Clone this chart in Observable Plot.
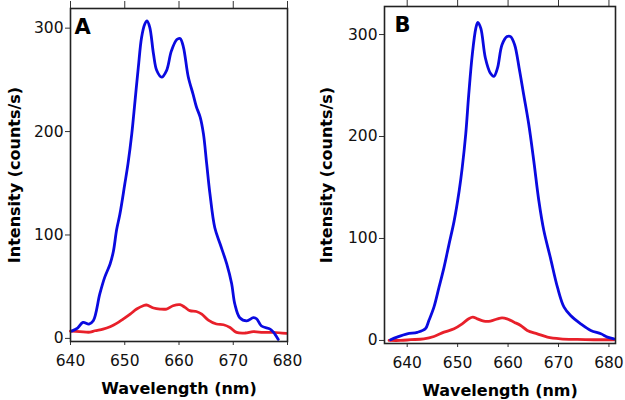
<!DOCTYPE html>
<html>
<head>
<meta charset="utf-8">
<script src="https://cdn.jsdelivr.net/npm/d3@7"></script>
<script src="https://cdn.jsdelivr.net/npm/@observablehq/plot@0.6"></script>
<style>
  html, body { margin: 0; padding: 0; background: #fff; }
  #wrap { position: relative; width: 625px; height: 400px; }
  #a { position: absolute; left: 0; top: 0; }
  #b { position: absolute; left: 310px; top: 0; }
</style>
</head>
<body>
<div id="wrap"><div id="a"></div><div id="b"></div></div>
<script>
// Panel A
const aBlueWl = [640.2, 641.3, 642.3, 643.4, 644.2, 645.4, 646.3, 647.3, 647.9, 648.5, 649.1, 650.0, 650.6, 651.3, 651.9, 652.5, 653.1, 653.7, 654.1, 654.6, 655.3, 655.9, 656.8, 657.7, 658.6, 659.6, 660.2, 660.8, 661.7, 662.6, 663.2, 663.9, 664.5, 665.1, 665.7, 666.6, 667.6, 668.8, 669.7, 670.3, 671.2, 672.5, 673.7, 674.3, 675.2, 676.8, 677.4, 678.3];
const aBlueI  = [7, 10, 15.5, 13.9, 17, 43, 59, 72, 84, 105, 120, 149, 169, 198, 230, 262, 291, 304, 307, 301, 275, 259, 252.6, 259, 278, 289, 290, 282, 253, 236, 224, 214, 198, 169, 140, 107, 91, 72, 53, 33, 20, 17, 20, 19, 12, 9, 6, -1];
const aRedWl  = [640.0, 641.7, 643.6, 644.5, 646.0, 647.3, 648.5, 649.7, 651.0, 652.2, 653.4, 654.0, 655.3, 656.5, 657.7, 658.9, 660.2, 661.1, 662.0, 663.2, 664.2, 665.4, 666.9, 668.2, 669.4, 670.6, 672.2, 673.7, 675.5, 677.4, 679.8];
const aRedI   = [7, 6.5, 6, 7.4, 9, 11.3, 14.5, 18.7, 23.5, 28.4, 31.6, 32.3, 29.4, 28.4, 28.4, 31.6, 32.6, 30, 26.8, 26, 23.5, 17.7, 13.9, 13.2, 10.6, 5.8, 5.2, 6.5, 5.8, 5.8, 4.8];

// Panel B
const bBlueWl = [636.7, 638.0, 640.0, 642.0, 643.6, 644.3, 645.3, 646.3, 647.3, 648.3, 649.3, 650.3, 650.9, 651.6, 652.2, 652.9, 653.6, 654.0, 654.6, 655.5, 656.5, 657.2, 657.9, 658.8, 659.8, 660.5, 661.3, 662.2, 663.1, 664.1, 665.1, 666.1, 667.1, 668.4, 669.8, 671.1, 672.4, 674.4, 676.4, 678.4, 679.7, 681.0];
const bBlueI  = [0.7, 3.3, 6.5, 8, 11.4, 19.5, 32.6, 52, 71.7, 94.5, 117, 146.6, 169, 202, 241, 280, 306, 312, 306, 277, 262, 259, 267, 290, 298, 298, 290, 267, 241, 212, 176, 137, 107.5, 81, 52, 32.6, 24.4, 16.3, 9.8, 6.5, 3.3, 1.6];
const bRedWl  = [636.4, 638.7, 640.7, 643.3, 645.3, 647.3, 649.3, 650.9, 652.2, 653.0, 653.9, 655.2, 656.5, 657.9, 658.8, 659.8, 661.2, 662.5, 663.8, 665.8, 667.8, 670.4, 673.7, 677.0, 681.0];
const bRedI   = [0, 0, 0.7, 1.6, 3.9, 8.1, 11.4, 16.3, 21.2, 22.8, 21.2, 18.9, 18.9, 21.2, 22.1, 21.2, 17.9, 14.7, 9.8, 6.5, 3.3, 1.6, 1, 0.7, 0.7];

const xTicks = [640, 650, 660, 670, 680];
const yTicks = [0, 100, 200, 300];
const xTitle = "Wavelength (nm)";
const yTitle = "Intensity (counts/s)";
const BLUE = "#0a0ae0";
const RED = "#e8202a";

const toRows = (wl, I) => wl.map((w, i) => ({w, v: I[i]}));

function panel({letter, blue, red, width, ml, mr, mt, mb, xdom, ydom, ytdx, letterDx}) {
  return Plot.plot({
    width, height: 400,
    marginLeft: ml, marginRight: mr, marginTop: mt, marginBottom: mb,
    style: {fontFamily: "DejaVu Sans", fontSize: "15.5px", color: "#111", background: "white"},
    x: {domain: xdom},
    y: {domain: ydom},
    marks: [
      Plot.axisX({anchor: "top", ticks: xTicks, tickSize: 8, tickFormat: () => "", label: null, stroke: "#333"}),
      Plot.axisX({anchor: "bottom", ticks: xTicks, tickSize: 4, tickPadding: 9, label: null, stroke: "#333"}),
      Plot.axisY({anchor: "left", ticks: yTicks, tickSize: 5, tickPadding: 2, label: null, stroke: "#333"}),
      Plot.line(red, {x: "w", y: "v", stroke: RED, strokeWidth: 2.8, curve: "catmull-rom"}),
      Plot.line(blue, {x: "w", y: "v", stroke: BLUE, strokeWidth: 2.8, curve: "catmull-rom"}),
      Plot.frame({stroke: "#222", strokeWidth: 1.6}),
      Plot.text([letter], {frameAnchor: "top-left", dx: letterDx, dy: 11, textAnchor: "start", lineAnchor: "top", fontWeight: "bold", fontSize: 21, fill: "black"}),
      Plot.text([xTitle], {frameAnchor: "bottom", dy: 47, textAnchor: "middle", lineAnchor: "middle", fontWeight: "bold", fontSize: 16, fill: "black"}),
      Plot.text([yTitle], {frameAnchor: "left", dx: ytdx, rotate: -90, textAnchor: "middle", lineAnchor: "middle", fontWeight: "bold", fontSize: 16, fill: "black"})
    ]
  });
}

document.getElementById("a").appendChild(panel({
  letter: "A", blue: toRows(aBlueWl, aBlueI), red: toRows(aRedWl, aRedI),
  width: 310, ml: 70, mr: 23, mt: 8, mb: 59,
  xdom: [640, 680], ydom: [-3, 319], ytdx: -56, letterDx: 4
}));
document.getElementById("b").appendChild(panel({
  letter: "B", blue: toRows(bBlueWl, bBlueI), red: toRows(bRedWl, bRedI),
  width: 315, ml: 74, mr: 10, mt: 6, mb: 57,
  xdom: [635.5, 681.3], ydom: [-3, 327.5], ytdx: -58, letterDx: 10
}));
</script>
</body>
</html>
